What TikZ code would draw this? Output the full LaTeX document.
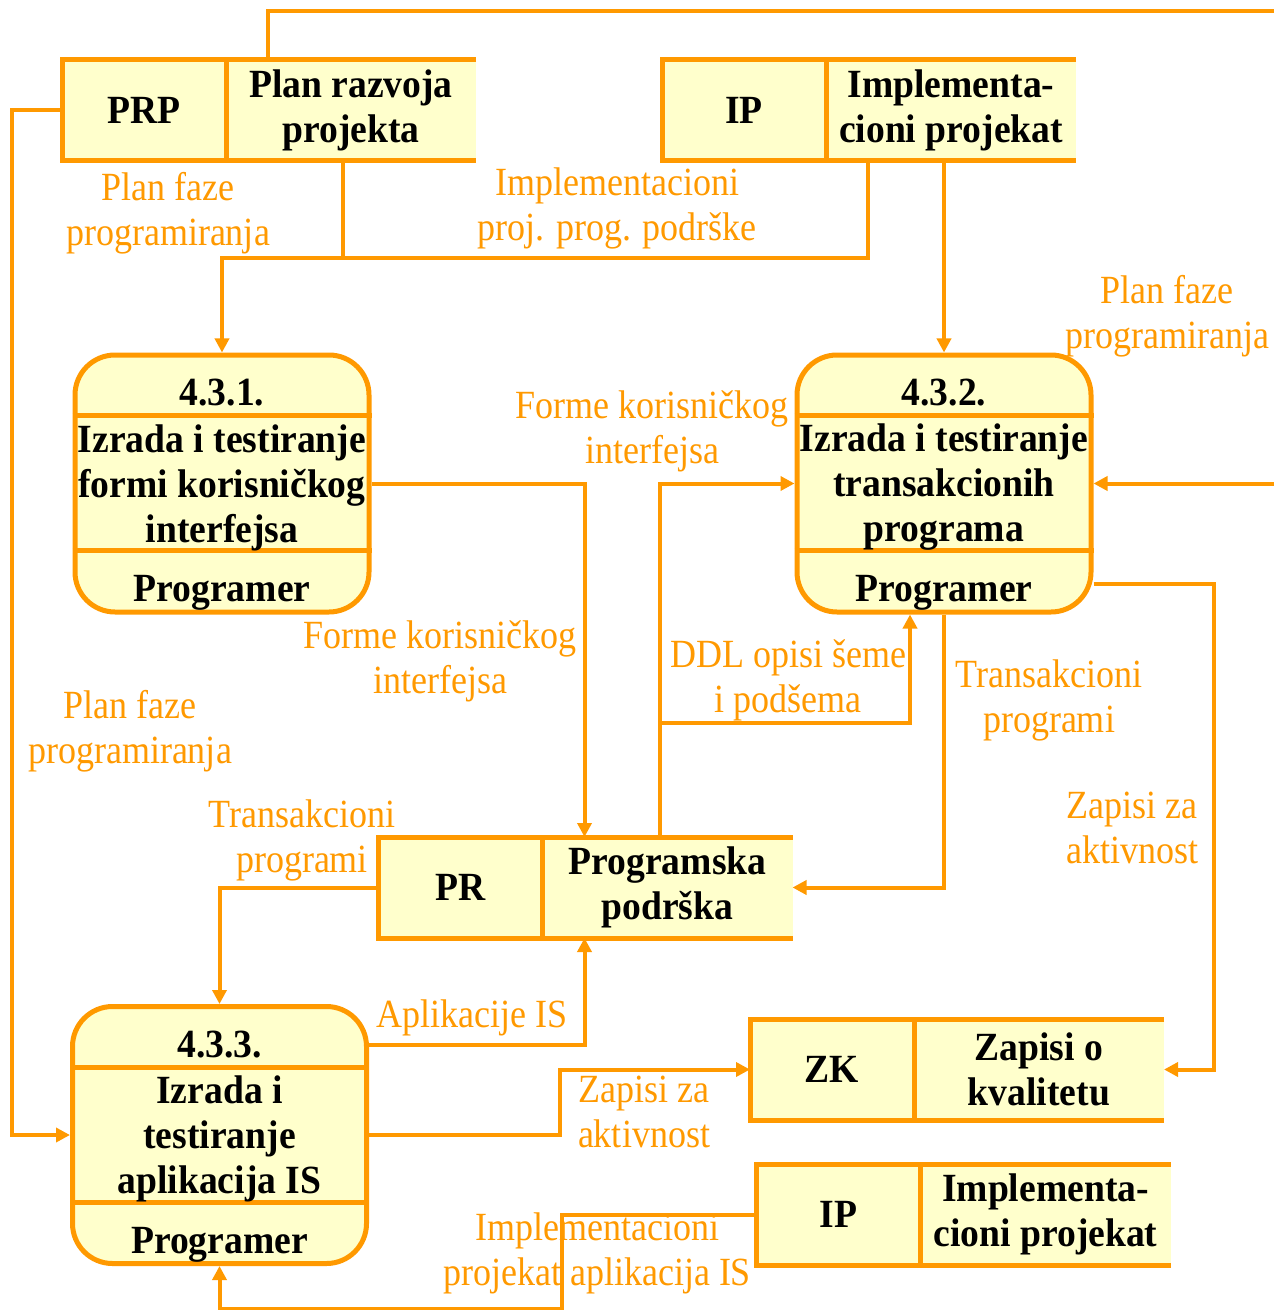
\documentclass[tikz,border=0pt]{standalone}
\usepackage{fontspec}
\setmainfont{Liberation Serif}[FakeStretch=0.9, BoldFeatures={FakeStretch=0.94}]
\usepackage{tikz}
\usetikzlibrary{arrows.meta, positioning}
\definecolor{orng}{HTML}{FF9900}
\definecolor{pale}{HTML}{FFFFCC}
\tikzset{
    proc/.style={draw=orng, line width=2.5pt, fill=pale, rounded corners=20pt, minimum width=147pt, minimum height=128.5pt, inner sep=0pt},
    ptext/.style={font=\fontsize{20}{22.5}\selectfont\bfseries, align=center, inner sep=0pt},
    cell/.style={fill=pale, minimum height=50.5pt, inner sep=0pt, outer sep=0pt, align=center, font=\fontsize{20}{22.5}\selectfont\bfseries},
    storeid/.style={cell, minimum width=82pt},
    storename/.style={cell, minimum width=125pt},
    lbl/.style={text=orng, font=\fontsize{20}{22.5}\selectfont, align=center, inner sep=0pt},
    boxline/.style={draw=orng, line width=2.5pt},
    flowline/.style={draw=orng, line width=2pt},
    arrow/.style={flowline, -{Triangle[length=7pt, width=7pt]}}
}
\begin{document}
\begin{tikzpicture}[x=0.5pt, y=-0.5pt]
\useasboundingbox (0,0) rectangle (1274,1310);

\node[storeid] (prp) at (144,110.5) {PRP};
\node[storename, right=0pt of prp] (prp-t) {Plan razvoja\\projekta};
\node[storeid] (ip) at (744,110) {IP};
\node[storename, right=0pt of ip] (ip-t) {Implementa-\\cioni projekat};
\node[storeid] (pr) at (460.5,887.5) {PR};
\node[storename, right=0pt of pr] (pr-t) {Programska\\podrška};
\node[storeid] (zk) at (832,1069.5) {ZK};
\node[storename, right=0pt of zk] (zk-t) {Zapisi o\\kvalitetu};
\node[storeid] (ipb) at (838.5,1214.5) {IP};
\node[storename, right=0pt of ipb] (ipb-t) {Implementa-\\cioni projekat};
\foreach \s in {prp,ip,pr,zk,ipb} {
    \draw[boxline] (\s-t.north east) -- (\s.north west) -- (\s.south west) -- (\s-t.south east)
        (\s.north east) -- (\s.south east);
}

\node[proc] (p431) at (222,483.5) {};
\node[proc] (p432) at (944,483.5) {};
\node[proc] (p433) at (219.5,1135) {};
\foreach \pid/\num/\txt in {p431/4.3.1./{Izrada i testiranje\\formi korisničkog\\interfejsa},
        p432/4.3.2./{Izrada i testiranje\\transakcionih\\programa},
        p433/4.3.3./{Izrada i\\testiranje\\aplikacija IS}} {
    \draw[boxline] ([yshift=-31.5pt]\pid.north west) -- ([yshift=-31.5pt]\pid.north east)
        ([yshift=32pt]\pid.south west) -- ([yshift=32pt]\pid.south east);
    \node[ptext, anchor=base] (\pid-no) at ([yshift=-26.5pt]\pid.north) {\num};
    \node[ptext] (\pid-txt) at ([yshift=-2pt]\pid.center) {\txt};
    \node[ptext, anchor=base] (\pid-who) at ([yshift=6.5pt]\pid.south) {Programer};
}

\coordinate (toprt) at (1274,11);
\coordinate (rtin) at (1274,483.5);
\coordinate (planjoin) at (343,258);
\coordinate (ddl) at (660,723);

\draw[flowline] ([xshift=21pt]prp-t.north west) |- (toprt);
\draw[arrow] (rtin) -- (p432.east);
\draw[arrow] ([xshift=58.5pt]prp-t.south west) -- (planjoin) -| (p431.north);
\draw[flowline] ([xshift=21pt]ip-t.south west) |- (planjoin);
\draw[arrow] (p432.north |- ip-t.south) -- (p432.north);
\draw[arrow] (prp.west) -- ++(-50,0) |- (p433.west);
\draw[arrow] (p431.east) -| ([xshift=21pt]pr-t.north west);
\draw[arrow] ([xshift=58.5pt]pr-t.north west) |- (p432.west);
\draw[arrow] (ddl) -| ([xshift=-17pt]p432.south);
\draw[arrow] (p432.south) |- (pr-t.east);
\draw[arrow] ([yshift=-50pt]p432.east) -- ++(120,0) |- (zk-t.east);
\draw[arrow] (pr.west) -| (p433.north);
\draw[arrow] ([yshift=45pt]p433.east) -| ([xshift=21pt]pr-t.south west);
\draw[arrow] (p433.east) -- ++(191,0) |- (zk.west);
\draw[arrow] (ipb.west) -- ++(-195,0) -- ++(0,94) -| (p433.south);

\node[lbl] (l-plan1) at (168,213) {Plan faze\\programiranja};
\node[lbl] (l-impl) at (617,208) {Implementacioni\\proj. prog. podrške};
\node[lbl] (l-plan2) at (1167,316) {Plan faze\\programiranja};
\node[lbl] (l-forme1) at (652,431) {Forme korisničkog\\interfejsa};
\node[lbl] (l-forme2) at (440,661) {Forme korisničkog\\interfejsa};
\node[lbl] (l-plan3) at (130,731) {Plan faze\\programiranja};
\node[lbl] (l-ddl) at (788,680) {DDL opisi šeme\\i podšema};
\node[lbl] (l-trans1) at (1049,700) {Transakcioni\\programi};
\node[lbl] (l-zapisi1) at (1132,828) {Zapisi za\\aktivnost};
\node[lbl] (l-trans2) at (302,840) {Transakcioni\\programi};
\node[lbl] (l-apl) at (472,1018) {Aplikacije IS};
\node[lbl] (l-zapisi2) at (644,1112) {Zapisi za\\aktivnost};
\node[lbl] (l-implis) at (597,1253) {Implementacioni\\projekat aplikacija IS};
\end{tikzpicture}
\end{document}
